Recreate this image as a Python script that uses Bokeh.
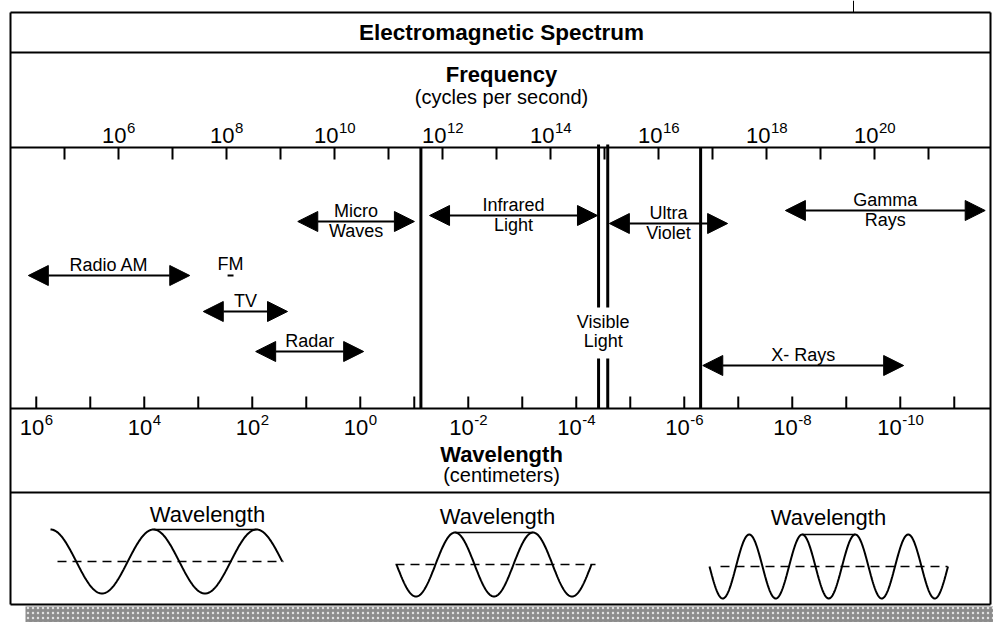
import numpy as np
from bokeh.plotting import figure
from bokeh.models import Range1d, ColumnDataSource, Arrow, NormalHead
from bokeh.core.properties import value
from bokeh.embed import file_html
from bokeh.resources import INLINE

# ---------------- data ----------------
title = "Electromagnetic Spectrum"
freq_title = "Frequency"
freq_sub = "(cycles per second)"
wl_title = "Wavelength"
wl_sub = "(centimeters)"

freq_tick_exponents = list(range(5, 22))                 # log10(Hz)
freq_label_exponents = [6, 8, 10, 12, 14, 16, 18, 20]
wl_tick_exponents = list(range(6, -12, -1))              # log10(cm)
wl_label_exponents = [6, 4, 2, 0, -2, -4, -6, -8, -10]
LOG_C_CM = np.log10(3e10)                                # speed of light, cm/s

band_label_top = ["Radio AM", "TV", "Radar", "Micro", "Infrared", "Ultra", "X- Rays", "Gamma"]
band_label_bottom = ["", "", "", "Waves", "Light", "Violet", "", "Rays"]
band_lo = [4.33, 7.57, 8.54, 9.32, 11.76, 15.09, 16.82, 18.35]   # log10(Hz)
band_hi = [7.32, 9.13, 10.54, 11.48, 14.87, 17.28, 20.54, 22.05]  # log10(Hz)

fm_label = "FM"
fm_lo, fm_hi = 8.02, 8.13

boundary_log_hz = [11.60, 14.89, 15.06, 16.78]
visible_label = ["Visible", "Light"]

wave_label = "Wavelength"

# ---------------- layout (page pixels) ----------------
W, H = 993, 622
X_REF_PX, X_REF_LOG, PX_PER_DEC = 118.0, 6.0, 54.0
TEXT_DY = -8   # empirical correction of the text baseline


def px_x(page_x):
    return X_REF_LOG + (page_x - X_REF_PX) / PX_PER_DEC


band_row_y = [275, 311, 351, 221, 215, 223, 365, 210]
LEFT_PX, RIGHT_PX = 10, 990
H_LINES_Y = [12, 52, 147, 408, 492, 604]
PANEL_TOP, PANEL_BOTTOM = 147, 408
TICK_LEN = 12
VIS_GAP = (307, 358)

FONT = value("Liberation Sans")

p = figure(width=W, height=H, output_backend="svg", toolbar_location=None,
           x_axis_location=None, y_axis_location=None, min_border=0,
           x_range=Range1d(px_x(0), px_x(W)), y_range=Range1d(H, 0),
           outline_line_color=None, background_fill_color="white",
           border_fill_color="white")
p.grid.visible = False

xl, xr = px_x(LEFT_PX), px_x(RIGHT_PX)


def txt(x, y, t, size, bold=False, align="center"):
    p.text(x=x, y=[v + TEXT_DY for v in y], text=t, text_font=FONT,
           text_font_style="bold" if bold else "normal",
           text_font_size=value(f"{size}px"), text_align=align,
           text_baseline="alphabetic", text_color="black")


# frame lines
p.segment(x0=[xl] * len(H_LINES_Y), x1=[xr] * len(H_LINES_Y), y0=H_LINES_Y, y1=H_LINES_Y,
          line_color="black", line_width=2)
p.segment(x0=[xl, xr], x1=[xl, xr], y0=[12, 12], y1=[604, 604], line_color="black", line_width=2)
p.segment(x0=[px_x(853)], x1=[px_x(853)], y0=[0], y1=[12], line_color="black", line_width=1)

# scanned band under the chart
p.quad(left=[px_x(25)], right=[px_x(993)], top=[606], bottom=[622],
       fill_color="#8c8c8c", line_color=None, hatch_pattern="dot",
       hatch_color="#e0e0e0", hatch_scale=5)

# top (frequency) ticks
p.segment(x0=freq_tick_exponents, x1=freq_tick_exponents,
          y0=[PANEL_TOP] * len(freq_tick_exponents),
          y1=[PANEL_TOP + TICK_LEN] * len(freq_tick_exponents),
          line_color="black", line_width=2)
# bottom (wavelength) ticks
wl_tick_x = [LOG_C_CM - e for e in wl_tick_exponents]
p.segment(x0=wl_tick_x, x1=wl_tick_x,
          y0=[PANEL_BOTTOM] * len(wl_tick_x),
          y1=[PANEL_BOTTOM - TICK_LEN] * len(wl_tick_x),
          line_color="black", line_width=2)

# tick labels 10^n
BASE_SIZE, EXP_SIZE = 22, 15
CW = {"-": 0.333}


def tw(s, size):
    return sum(CW.get(c, 0.556) for c in s) * size


def power_labels(xs, exps, base_y):
    w10 = tw("10", BASE_SIZE)
    offs, eoffs, etxt = [], [], []
    for e in exps:
        s = str(e)
        we = tw(s, EXP_SIZE)
        left = -(w10 + we) / 2
        offs.append(left)
        eoffs.append(left + w10 + 0.5)
        etxt.append(s)
    yb = base_y + TEXT_DY
    src = ColumnDataSource(dict(x=xs, y=[yb] * len(xs), ye=[yb - 8] * len(xs),
                                t=["10"] * len(xs), et=etxt, o=offs, eo=eoffs))
    p.text(x="x", y="y", text="t", x_offset="o", source=src, text_font=FONT,
           text_font_size=value(f"{BASE_SIZE}px"), text_align="left",
           text_baseline="alphabetic", text_color="black")
    p.text(x="x", y="ye", text="et", x_offset="eo", source=src, text_font=FONT,
           text_font_size=value(f"{EXP_SIZE}px"), text_align="left",
           text_baseline="alphabetic", text_color="black")


power_labels(freq_label_exponents, freq_label_exponents, 143)
power_labels([LOG_C_CM - e for e in wl_label_exponents], wl_label_exponents, 435)

# headings
mid = px_x(501)
txt([mid], [40], [title], 22.5, bold=True)
txt([mid], [82], [freq_title], 22, bold=True)
txt([mid], [104], [freq_sub], 20)
txt([mid], [462], [wl_title], 22, bold=True)
txt([mid], [482], [wl_sub], 20)

# band boundary lines
segx0, segy0, segy1 = [], [], []
for i, b in enumerate(boundary_log_hz):
    if i in (1, 2):
        segx0 += [b, b]
        segy0 += [PANEL_TOP - 3, VIS_GAP[1]]
        segy1 += [VIS_GAP[0], PANEL_BOTTOM]
    else:
        segx0.append(b)
        segy0.append(PANEL_TOP)
        segy1.append(PANEL_BOTTOM)
p.segment(x0=segx0, x1=segx0, y0=segy0, y1=segy1, line_color="black", line_width=3)

vis_x = (boundary_log_hz[1] + boundary_log_hz[2]) / 2
txt([vis_x, vis_x], [329, 348], visible_label, 18)

# band arrows
asrc = ColumnDataSource(dict(x0=band_lo, x1=band_hi, y=band_row_y))
p.add_layout(Arrow(source=asrc, x_start="x0", x_end="x1", y_start="y", y_end="y",
                   line_color="black", line_width=2,
                   start=NormalHead(size=20, fill_color="black", line_color="black", line_width=1),
                   end=NormalHead(size=20, fill_color="black", line_color="black", line_width=1)))
mids = [(a + b) / 2 for a, b in zip(band_lo, band_hi)]
txt(mids, [y - 3 for y in band_row_y], band_label_top, 18)
txt(mids, [y + 17 for y in band_row_y], band_label_bottom, 18)

# FM
fm_mid = (fm_lo + fm_hi) / 2
txt([fm_mid], [271], [fm_label], 18)
p.segment(x0=[fm_lo], x1=[fm_hi], y0=[275], y1=[275], line_color="black", line_width=2)

# wave illustrations (page px layout)
wave_start = [50, 396, 709]
wave_len = [103, 78, 53]
wave_periods = [2.25, 2.5, 4.5]
wave_cy = [561, 564, 566]
wave_amp = 32
wave_peak_phase = [0.0, 0.75, 0.75]     # first peak, in periods after start
bracket_peak = [1, 0, 1]
dash_span = [(57, 283), (395, 595), (720, 947)]
label_x = [207, 497, 828]
label_y = [522, 524, 525]

for i in range(3):
    xs_px = np.linspace(wave_start[i], wave_start[i] + wave_periods[i] * wave_len[i], 400)
    th = 2 * np.pi * ((xs_px - wave_start[i]) / wave_len[i] - wave_peak_phase[i])
    ys = wave_cy[i] - wave_amp * np.cos(th)
    p.line([px_x(v) for v in xs_px], ys, line_color="black", line_width=2)
    p.line([px_x(dash_span[i][0]), px_x(dash_span[i][1])], [wave_cy[i], wave_cy[i]],
           line_color="black", line_width=1.5, line_dash="9 6")
    pk = wave_start[i] + (wave_peak_phase[i] + bracket_peak[i]) * wave_len[i]
    p.line([px_x(pk), px_x(pk + wave_len[i])], [wave_cy[i] - wave_amp] * 2,
           line_color="black", line_width=1.5)
    txt([px_x(label_x[i])], [label_y[i]], [wave_label], 22)

open("out.html", "w").write(file_html(p, INLINE))
